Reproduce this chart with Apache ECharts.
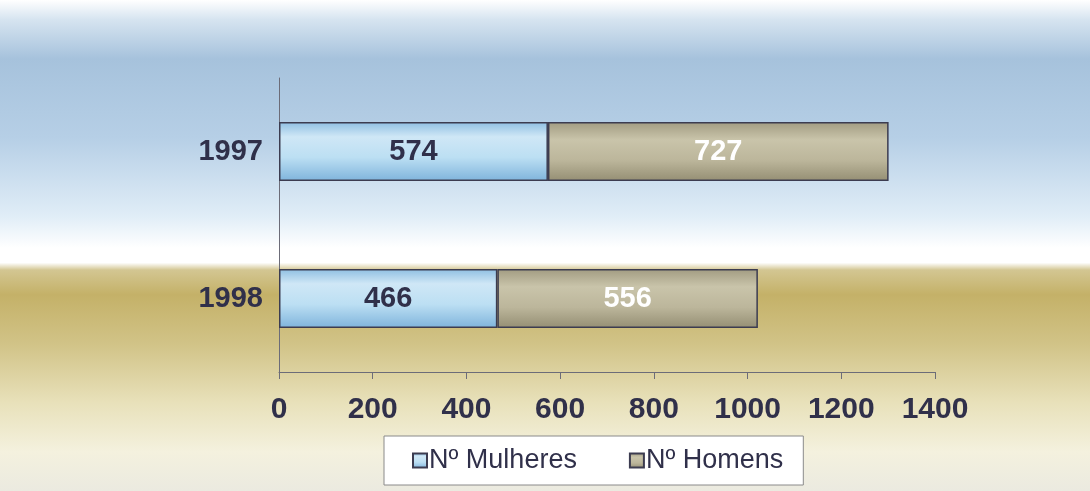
<!DOCTYPE html>
<html>
<head>
<meta charset="utf-8">
<title>Mulheres e Homens</title>
<style>
    html, body{
        margin:0;
        padding:0;
        background:#fff;
    }
    #main{
        width:1090px;
        height:491px;
    }
</style>
</head>
<body>
<div id="main"></div>
<script src="https://cdn.jsdelivr.net/npm/echarts@6/dist/echarts.min.js"></script>
<script>
    // dados do grafico
    var anos = ['1997', '1998'];
    var mulheres = [574, 466];
    var homens = [727, 556];
    var nomes = ['Nº Mulheres', 'Nº Homens'];
    var ticks = [0, 200, 400, 600, 800, 1000, 1200, 1400];

    var corTexto = '#30304a';
    var fonte = '"Liberation Sans", Arial, sans-serif';

    // fundo: ceu em cima, areia em baixo
    var fundo = new echarts.graphic.LinearGradient(0, 0, 0, 1, [
        {offset: 0.00, color: '#ffffff'},
        {offset: 0.04, color: '#d6e4f0'},
        {offset: 0.12, color: '#a6c2dc'},
        {offset: 0.28, color: '#b6cfe6'},
        {offset: 0.44, color: '#e0edf7'},
        {offset: 0.505, color: '#ffffff'},
        {offset: 0.535, color: '#ffffff'},
        {offset: 0.55, color: '#d3c692'},
        {offset: 0.60, color: '#c4b168'},
        {offset: 0.70, color: '#d1c387'},
        {offset: 0.82, color: '#e8e1ba'},
        {offset: 0.92, color: '#f4f1de'},
        {offset: 1.00, color: '#ebeae0'}
    ]);

    var azul = new echarts.graphic.LinearGradient(0, 0, 0, 1, [
        {offset: 0, color: '#8fbfe2'},
        {offset: 0.25, color: '#cfe7f6'},
        {offset: 0.6, color: '#bcdff3'},
        {offset: 1, color: '#7fb4dc'}
    ]);
    var cinza = new echarts.graphic.LinearGradient(0, 0, 0, 1, [
        {offset: 0, color: '#a29c82'},
        {offset: 0.3, color: '#c9c4aa'},
        {offset: 0.65, color: '#bcb69b'},
        {offset: 1, color: '#958f74'}
    ]);

    var myChart = echarts.init(document.getElementById('main'));

    myChart.setOption({
        backgroundColor: fundo,
        animation: false,
        textStyle: {fontFamily: fonte},
        grid: {
            left: 279,
            right: 155,
            top: 78,
            bottom: 119
        },
        legend: {
            data: nomes,
            left: 384,
            top: 436,
            backgroundColor: '#ffffff',
            borderColor: '#8a8a8a',
            borderWidth: 1,
            padding: [11, 20, 11, 28],
            itemGap: 52,
            itemWidth: 14,
            itemHeight: 14,
            icon: 'rect',
            textStyle: {
                color: corTexto,
                fontSize: 27,
                fontFamily: fonte,
                padding: [0, 0, 0, -3]
            }
        },
        xAxis: {
            type: 'value',
            min: ticks[0],
            max: ticks[ticks.length - 1],
            interval: 200,
            axisLine: {show: true, lineStyle: {color: '#6c6c78', width: 1}},
            axisTick: {show: true, length: 7, lineStyle: {color: '#6c6c78'}},
            splitLine: {show: false},
            axisLabel: {
                color: corTexto,
                fontSize: 30,
                fontWeight: 'bold',
                margin: 23,
                formatter: function (v) { return String(v); }
            }
        },
        yAxis: {
            type: 'category',
            data: anos,
            inverse: true,
            axisLine: {show: true, lineStyle: {color: '#6c6c78', width: 1}},
            axisTick: {show: false},
            axisLabel: {
                color: corTexto,
                fontSize: 29,
                fontWeight: 'bold',
                margin: 16
            }
        },
        series: [{
            name: nomes[0],
            type: 'bar',
            stack: 'total',
            barWidth: '40%',
            data: mulheres,
            itemStyle: {color: azul, borderColor: '#3c3c50', borderWidth: 1.5},
            label: {
                show: true,
                position: 'inside',
                color: corTexto,
                fontSize: 29,
                fontWeight: 'bold'
            }
        }, {
            name: nomes[1],
            type: 'bar',
            stack: 'total',
            barWidth: '40%',
            data: homens,
            itemStyle: {color: cinza, borderColor: '#3c3c50', borderWidth: 1.5},
            label: {
                show: true,
                position: 'inside',
                color: '#ffffff',
                fontSize: 29,
                fontWeight: 'bold'
            }
        }]
    });
</script>
</body>
</html>
